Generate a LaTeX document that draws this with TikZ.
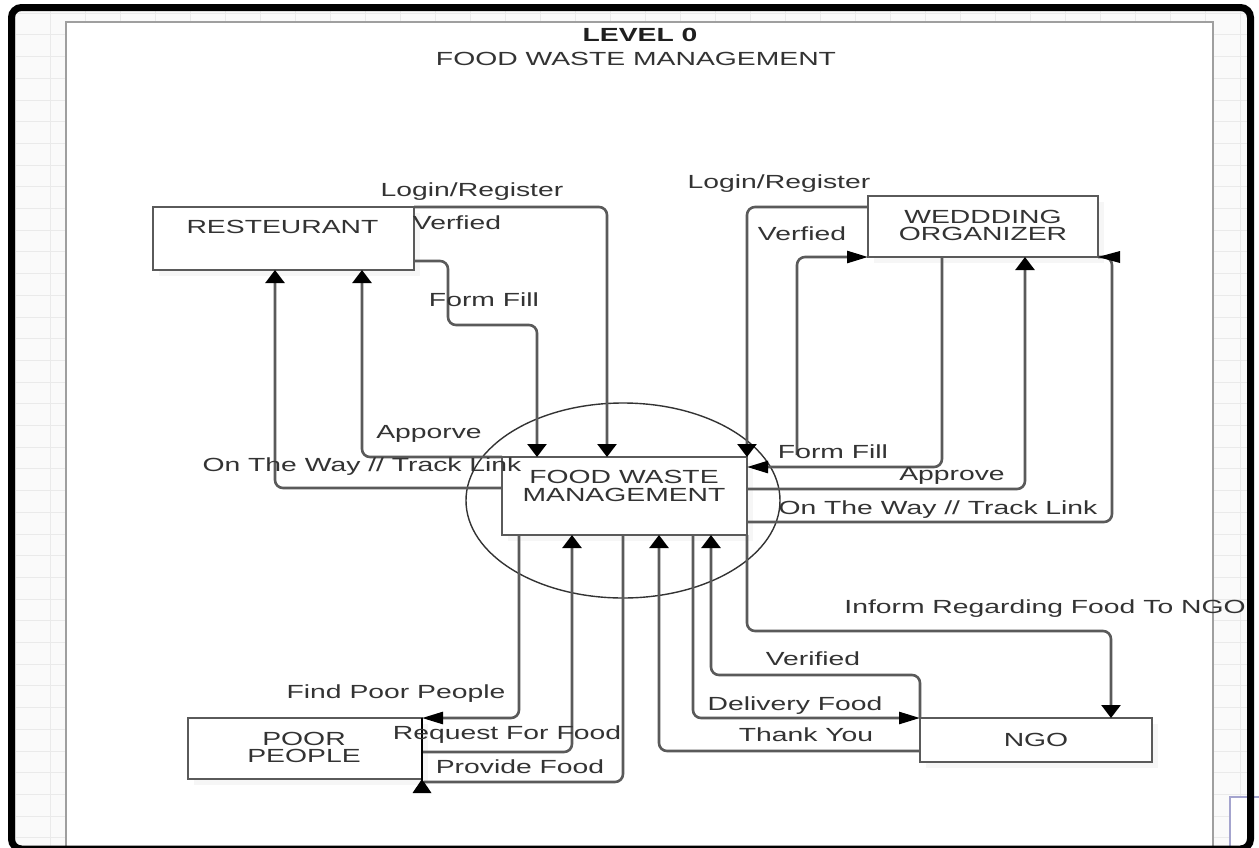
\documentclass[tikz,border=0pt]{standalone}
\usepackage{fontspec}
\setmainfont[FakeStretch=1.49]{Liberation Sans}
\usetikzlibrary{arrows.meta,calc,shadows}

\definecolor{linegray}{HTML}{5A5A5A}
\definecolor{txtgray}{HTML}{333333}
\definecolor{gridgray}{HTML}{EAEAEA}
\definecolor{pagebg}{HTML}{FAFAFA}

\begin{document}
\begin{tikzpicture}[x=1pt,y=-1pt,
  conn/.style={draw=linegray, line width=2.6pt, rounded corners=8pt},
  va/.style={-{Triangle[length=13pt,width=19pt,color=black]}},
  ha/.style={-{Triangle[length=21pt,width=12pt,color=black]}},
  box/.style={draw=linegray, line width=2.4pt, fill=white, inner sep=0pt, outer sep=0pt,
    drop shadow={opacity=0.07, shadow xshift=6pt, shadow yshift=-6pt}},
  lbl/.style={text=txtgray, font=\fontsize{19pt}{17.5pt}\selectfont, inner sep=0pt,
    text height=13.6pt, text depth=0pt},
  boxtxt/.style={text=txtgray, font=\fontsize{19pt}{17.5pt}\selectfont, inner sep=0pt, align=center},
]
\useasboundingbox (0,0) rectangle (1259,847);

% editor canvas with its grid
\fill[pagebg] (11.5,7.5) rectangle (1250.5,849);
\begin{scope}
  \clip (11.5,7.5) rectangle (1250.5,849);
  \foreach \x in {15,50,...,1260} \draw[gridgray, line width=0.9pt] (\x,0) -- (\x,860);
  \foreach \y in {13.2,34.9,...,860} \draw[gridgray, line width=0.9pt] (0,\y) -- (1260,\y);
\end{scope}

% drawing page
\fill[white] (66,22) rectangle (1213,860);
\draw[color=gray!75, line width=2.5pt] (66,860) -- (66,22) -- (1213,22) -- (1213,860);
\draw[draw=blue!30!gray!55, fill=white, line width=1.2pt] (1230,797) rectangle (1265,860);

% title
\node[font=\fontsize{19pt}{19pt}\selectfont\bfseries, text=black!88, inner sep=0pt,
  text height=13.6pt, text depth=0pt] (lvl) at (640,35) {LEVEL 0};
\node[lbl] (ttl) at (636,59) {FOOD WASTE MANAGEMENT};

% central process
\draw[draw=black!80, line width=1.4pt] (623,500.5) ellipse [x radius=157pt, y radius=97.5pt];

% entities
\node[box, minimum width=261pt, minimum height=63pt] (rest) at (283.5,238.5) {};
\node[box, minimum width=245pt, minimum height=78pt] (fwm) at (624.5,496) {};
\node[box, minimum width=230pt, minimum height=61pt] (wed) at (983,226.5) {};
\node[box, minimum width=234pt, minimum height=61pt] (poor) at (305,748.5) {};
\node[box, minimum width=232pt, minimum height=44pt] (ngo) at (1036,740) {};

\node[lbl] (restL) at (282.5,227) {RESTEURANT};
\node[boxtxt] (fwmL) at (624,486) {FOOD WASTE\\MANAGEMENT};
\node[boxtxt] (wedL) at (983,225.5) {WEDDDING\\ORGANIZER};
\node[boxtxt] (poorL) at (304,747.5) {POOR\\PEOPLE};
\node[lbl] (ngoL) at (1036,740) {NGO};

% restaurant flows
\draw[conn, va] (rest.north east) -| ($(fwm.north west)+(105,0)$);
\draw[conn, va] ($(rest.south east)+(0,-9)$) -- ++(34,0) -- ++(0,64) -| ($(fwm.north west)+(35,0)$);
\draw[conn, va] (fwm.north west) -| ($(rest.south west)+(209,0)$);
\draw[conn, va] ($(fwm.north west)+(0,31)$) -| ($(rest.south west)+(122,0)$);

% wedding organizer flows
\coordinate (wv) at ($(fwm.north east)+(50,-2)$);
\draw[conn, va] ($(wed.north west)+(0,11)$) -| (fwm.north east);
\draw[conn, ha] (wv) |- (wed.south west);
\draw[conn, ha] ($(wed.south west)+(74,0)$) |- ($(fwm.north east)+(0,10)$);
\draw[conn, va] ($(fwm.north east)+(0,32)$) -| ($(wed.south west)+(157,0)$);
\draw[conn] ($(fwm.north east)+(0,65)$) -| ($(wed.south east)+(14,0)$) -- (wed.south east);
\fill[black] (wed.south east) -- ++(22,-6) -- ++(0,12) -- cycle;

% poor people flows
\draw[conn, ha] ($(fwm.south west)+(17,0)$) |- (poor.north east);
\draw[conn, va] ($(poor.south east)+(0,-27)$) -| ($(fwm.south west)+(70,0)$);
\draw[conn] ($(fwm.south west)+(121,0)$) |- ($(poor.south east)+(2,3)$);
\draw[black, line width=1.3pt] (poor.north east) -- ($(poor.south east)+(0,10)$);
\fill[black] (poor.south east) -- ++(-9.5,14) -- ++(19,0) -- cycle;

% NGO flows
\draw[conn, va] ($(ngo.north west)+(0,33)$) -| ($(fwm.south west)+(157,0)$);
\draw[conn, ha] ($(fwm.south west)+(191,0)$) |- (ngo.north west);
\draw[conn, va] (ngo.north west) -- ++(0,-43) -| ($(fwm.south west)+(209,0)$);
\draw[conn, va] (fwm.south east) |- ($(ngo.north west)+(191,-87)$) -- ($(ngo.north west)+(191,0)$);

% flow labels
\node[lbl] (l1) at (472,190) {Login/Register};
\node[lbl] (l2) at (457,223) {Verfied};
\node[lbl] (l3) at (484,300) {Form Fill};
\node[lbl] (l4) at (429,432) {Apporve};
\node[lbl] (l5) at (362,465) {On The Way // Track Link};
\node[lbl] (l6) at (779,182) {Login/Register};
\node[lbl] (l7) at (802,234) {Verfied};
\node[lbl] (l8) at (833,452) {Form Fill};
\node[lbl] (l9) at (952,474) {Approve};
\node[lbl] (l10) at (938,508) {On The Way // Track Link};
\node[lbl] (l11) at (1045,607) {Inform Regarding Food To NGO};
\node[lbl] (l12) at (813,659) {Verified};
\node[lbl] (l13) at (795,704) {Delivery Food};
\node[lbl] (l14) at (806,735) {Thank You};
\node[lbl] (l15) at (396,692) {Find Poor People};
\node[lbl] (l16) at (507,733) {Request For Food};
\node[lbl] (l17) at (520,767) {Provide Food};

% window frame
\draw[line width=7pt, rounded corners=10pt] (11.5,7.5) rectangle (1250.5,849);
\end{tikzpicture}
\end{document}
